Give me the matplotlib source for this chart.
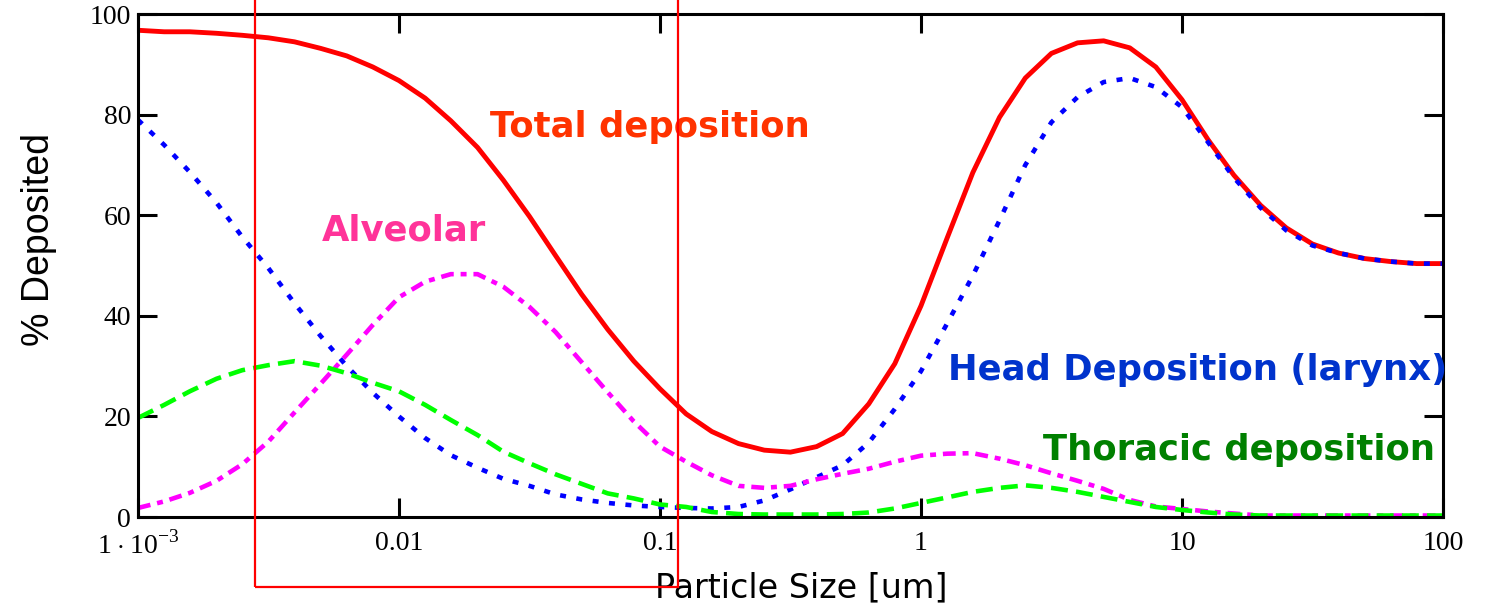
import matplotlib
matplotlib.use('Agg')
import matplotlib.pyplot as plt
from matplotlib.patches import Rectangle
from matplotlib.ticker import FixedLocator, FixedFormatter
import matplotlib.transforms as mtransforms

plt.rcParams['mathtext.fontset'] = 'custom'
plt.rcParams['mathtext.rm'] = 'Liberation Serif'

# particle diameters (um), 10 points per decade
size_um = [0.001, 0.00126, 0.00158, 0.002, 0.00251, 0.00316, 0.00398, 0.00501, 0.00631, 0.00794,
           0.01, 0.0126, 0.0158, 0.02, 0.0251, 0.0316, 0.0398, 0.0501, 0.0631, 0.0794,
           0.1, 0.126, 0.158, 0.2, 0.251, 0.316, 0.398, 0.501, 0.631, 0.794,
           1.0, 1.26, 1.58, 2.0, 2.51, 3.16, 3.98, 5.01, 6.31, 7.94,
           10.0, 12.6, 15.8, 20.0, 25.1, 31.6, 39.8, 50.1, 63.1, 79.4, 100.0]

total = [96.8, 96.5, 96.5, 96.2, 95.8, 95.3, 94.5, 93.2, 91.7, 89.5,
         86.8, 83.3, 78.8, 73.5, 67.0, 59.8, 52.0, 44.3, 37.3, 31.0,
         25.5, 20.5, 17.0, 14.6, 13.3, 12.9, 14.0, 16.6, 22.5, 30.5,
         42.0, 55.5, 68.5, 79.5, 87.3, 92.2, 94.3, 94.7, 93.3, 89.5,
         83.0, 75.0, 68.0, 62.0, 57.5, 54.3, 52.5, 51.4, 50.8, 50.4, 50.4]

head = [79.0, 74.0, 68.6, 62.5, 55.7, 49.5, 42.5, 36.0, 30.0, 24.7,
        20.0, 15.7, 12.3, 9.8, 7.6, 6.2, 4.5, 3.5, 2.8, 2.3,
        2.0, 1.8, 1.7, 2.0, 3.3, 5.5, 7.9, 10.3, 14.8, 21.5,
        29.0, 38.5, 48.0, 59.0, 70.0, 78.5, 83.5, 86.5, 87.3, 85.5,
        81.5, 74.5, 67.5, 61.5, 57.0, 54.0, 52.5, 51.4, 50.8, 50.4, 50.4]

alveolar = [1.8, 3.1, 4.8, 7.2, 10.5, 15.0, 20.8, 26.5, 32.3, 38.2,
            43.7, 46.8, 48.3, 48.3, 45.8, 41.8, 36.8, 30.8, 24.8, 19.0,
            14.0, 11.0, 8.3, 6.2, 5.8, 6.2, 7.5, 8.6, 9.6, 11.0,
            12.2, 12.6, 12.7, 11.6, 10.3, 8.7, 7.2, 5.6, 3.4, 2.1,
            1.6, 1.1, 0.7, 0.3, 0.3, 0.3, 0.3, 0.3, 0.3, 0.3, 0.3]

thoracic = [19.7, 22.3, 25.0, 27.5, 29.2, 30.2, 31.0, 30.1, 28.6, 26.7,
            25.0, 22.3, 19.3, 16.3, 13.0, 10.7, 8.5, 6.6, 4.7, 3.7,
            2.5, 2.0, 1.0, 0.6, 0.5, 0.5, 0.5, 0.6, 0.9, 1.7,
            2.8, 3.9, 5.0, 5.8, 6.3, 5.8, 5.0, 4.0, 3.0, 2.0,
            1.4, 0.9, 0.5, 0.3, 0.3, 0.3, 0.3, 0.3, 0.3, 0.3, 0.3]

xticks = [0.001, 0.01, 0.1, 1, 10, 100]
xticklabels = [r'$1\cdot10^{-3}$', '0.01', '0.1', '1', '10', '100']
yticks = [0, 20, 40, 60, 80, 100]

# highlighted size range
box_range = [0.0028, 0.117]

fig = plt.figure(figsize=(14.93, 6.11), dpi=100)
ax = fig.add_axes([0.0924, 0.1538, 0.8741, 0.823])

ax.plot(size_um, total, color='#ff0000', lw=3.5)
ax.plot(size_um, head, color='#0000ff', lw=3.3, linestyle=(0, (1.3, 2.3)), dash_capstyle='butt')
ax.plot(size_um, alveolar, color='#ff00ff', lw=3.3, linestyle=(0, (2.8, 1.5, 1.3, 1.5)), dash_capstyle='butt')
ax.plot(size_um, thoracic, color='#00ff00', lw=3.3, linestyle=(0, (3.7, 1.8)), dash_capstyle='butt')

ax.set_xscale('log')
ax.set_xlim(0.001, 100)
ax.set_ylim(0, 100)
ax.minorticks_off()
ax.xaxis.set_major_locator(FixedLocator(xticks))
ax.xaxis.set_major_formatter(FixedFormatter(xticklabels))
ax.set_yticks(yticks)
ax.set_yticklabels([str(v) for v in yticks])

for sp in ax.spines.values():
    sp.set_linewidth(2.2)
ax.tick_params(axis='both', which='major', direction='in', length=14, width=2.2,
               top=True, right=True, labelsize=20)
ax.tick_params(axis='x', pad=10)
ax.tick_params(axis='y', pad=5)
for lab in ax.get_xticklabels() + ax.get_yticklabels():
    lab.set_fontfamily('Liberation Serif')

ax.set_xlabel('Particle Size [um]', fontsize=24, fontfamily='DejaVu Sans', va='center')
ax.xaxis.set_label_coords(0.508, -0.141)
ax.set_ylabel('% Deposited', fontsize=27, fontfamily='Liberation Sans', va='center')
ax.yaxis.set_label_coords(-0.076, 0.551)

bold = dict(fontfamily='DejaVu Sans', fontweight='bold', fontsize=25.5, ha='left', va='center')
ax.text(0.0223, 77.5, 'Total deposition', color='#ff3300', **bold)
ax.text(0.00507, 56.9, 'Alveolar', color='#ff3399', **bold)
ax.text(1.269, 29.2, 'Head Deposition (larynx)', color='#0033cc', **bold)
ax.text(2.93, 13.3, 'Thoracic deposition', color='#008000', **bold)

trans = mtransforms.blended_transform_factory(ax.transData, ax.transAxes)
ax.add_patch(Rectangle((box_range[0], -0.139), box_range[1] - box_range[0], 1.3,
                       transform=trans, fill=False, edgecolor='#ff0000', lw=1.6,
                       clip_on=False, zorder=5))

fig.savefig('out.png', dpi=100)
